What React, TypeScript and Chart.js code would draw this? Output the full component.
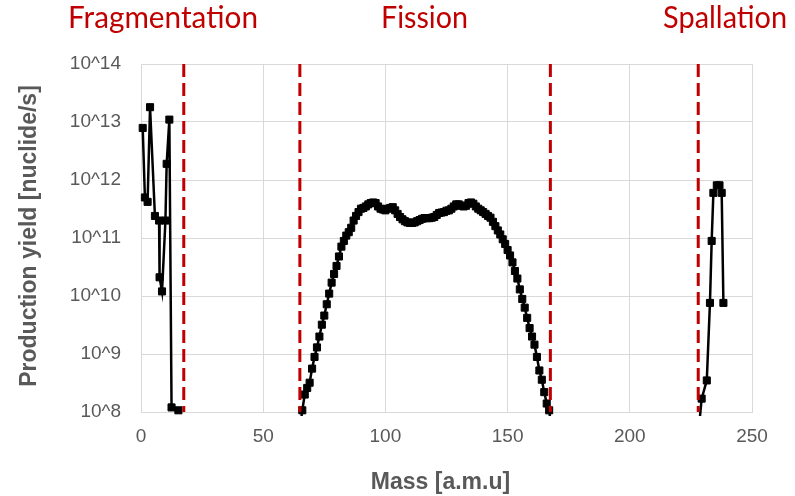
import React, { useEffect, useRef } from "react";
import { Chart, registerables } from "chart.js";

Chart.register(...registerables);

// ---------- data ----------
const fragMass = [0.7, 1.6, 2.7, 3.7, 5.7, 7.4, 7.6, 8.6, 10.0, 10.5, 11.6, 12.5, 15.3];
const fragYield = [7.9e12, 5.0e11, 4.2e11, 1.8e13, 2.4e11, 2.0e11, 2.1e10, 1.2e10, 2.0e11, 1.9e12, 1.1e13, 1.2e8, 1.07e8];

const fissionMass = [
  65, 66, 67, 68, 69, 70, 71, 72, 73, 74, 75, 76, 77, 78, 79, 80, 81, 82, 83, 84,
  85, 86, 87, 88, 89, 90, 91, 92, 93, 94, 95, 96, 97, 98, 99, 100, 101, 102, 103, 104,
  105, 106, 107, 108, 109, 110, 111, 112, 113, 114, 115, 116, 117, 118, 119, 120, 121, 122, 123, 124,
  125, 126, 127, 128, 129, 130, 131, 132, 133, 134, 135, 136, 137, 138, 139, 140, 141, 142, 143, 144,
  145, 146, 147, 148, 149, 150, 151, 152, 153, 154, 155, 156, 157, 158, 159, 160, 161, 162, 163, 164,
  165, 166, 167, 168,
];
const fissionYield = [
  5.0e7, 1.07e8, 2.0e8, 2.6e8, 3.2e8, 5.6e8, 8.9e8, 1.3e9, 2.0e9, 3.2e9, 4.6e9, 7.2e9, 1.1e10, 1.7e10, 2.4e10, 3.3e10, 4.8e10, 7.1e10, 8.9e10, 1.1e11,
  1.26e11, 1.5e11, 2.0e11, 2.4e11, 2.8e11, 3.2e11, 3.3e11, 3.5e11, 3.8e11, 4.0e11, 4.1e11, 4.0e11, 3.5e11, 3.2e11, 3.1e11, 3.0e11, 3.2e11, 3.3e11, 3.4e11, 3.0e11,
  2.6e11, 2.3e11, 2.1e11, 1.95e11, 1.86e11, 1.82e11, 1.82e11, 1.86e11, 1.95e11, 2.04e11, 2.14e11, 2.2e11, 2.2e11, 2.2e11, 2.24e11, 2.3e11, 2.5e11, 2.7e11, 2.75e11, 2.8e11,
  2.95e11, 3.0e11, 3.2e11, 3.5e11, 3.8e11, 3.8e11, 3.6e11, 3.5e11, 3.6e11, 4.0e11, 4.1e11, 3.9e11, 3.5e11, 3.2e11, 3.0e11, 2.8e11, 2.6e11, 2.4e11, 2.24e11, 1.9e11,
  1.6e11, 1.35e11, 1.15e11, 9.5e10, 7.9e10, 6.2e10, 5.0e10, 3.8e10, 2.7e10, 2.0e10, 1.3e10, 8.9e9, 6.3e9, 4.2e9, 2.8e9, 2.0e9, 1.45e9, 8.9e8, 5.2e8, 3.6e8,
  2.2e8, 1.4e8, 1.07e8, 5.0e7,
];

const spallMass = [228, 229.4, 231.5, 232.8, 233.5, 234.2, 235.6, 236.7, 237.6, 238.3];
const spallYield = [4.0e7, 1.7e8, 3.5e8, 7.6e9, 8.9e10, 6.0e11, 8.1e11, 8.1e11, 6.0e11, 7.6e9];

const regionBoundaries = [17.5, 65, 167.5, 228];
const regionTitles = ["Fragmentation", "Fission", "Spallation"];
const regionTitleCenters = [9, 116, 239];
const regionTitleWidths = [190, 87, 124];

const xTickValues = [0, 50, 100, 150, 200, 250];
const yTickValues = [1e8, 1e9, 1e10, 1e11, 1e12, 1e13, 1e14];
const yTickLabels = ["10^8", "10^9", "10^10", "10^11", "10^12", "10^13", "10^14"];

const xTitle = "Mass [a.m.u]";
const yTitle = "Production yield [nuclide/s]";

// ---------- styling ----------
const GRAY = "#595959";
const GRID = "#d9d9d9";
const RED = "#C00000";
const TICK_FONT = "'Liberation Sans', Arial, sans-serif";

const toPoints = (xs: number[], ys: number[]) => xs.map((x, i) => ({ x, y: ys[i] }));

const seriesStyle = {
  showLine: true,
  borderColor: "#000000",
  backgroundColor: "#000000",
  borderWidth: 2.5,
  pointStyle: "rect" as const,
  pointRadius: 5,
  pointBorderWidth: 1,
  pointBackgroundColor: "#000000",
  pointBorderColor: "#000000",
  tension: 0,
  order: 2,
  clip: { left: 6, top: 6, right: 6, bottom: 4 },
};

const textPlugin = {
  id: "textPlugin",
  afterDraw(chart: any) {
    const { ctx, chartArea, scales } = chart;
    const xs = scales.x;
    ctx.save();
    // region titles
    ctx.fillStyle = RED;
    ctx.font = "30px Lato, 'Open Sans', sans-serif";
    ctx.textAlign = "center";
    ctx.textBaseline = "alphabetic";
    regionTitles.forEach((t, i) => {
      ctx.fillText(t, xs.getPixelForValue(regionTitleCenters[i]), 28, regionTitleWidths[i]);
    });
    // axis titles
    ctx.fillStyle = GRAY;
    ctx.font = `bold 23px ${TICK_FONT}`;
    ctx.textBaseline = "middle";
    ctx.fillText(xTitle, (chartArea.left + chartArea.right) / 2 - 6, 483);
    ctx.translate(30, (chartArea.top + chartArea.bottom) / 2 - 2);
    ctx.rotate(-Math.PI / 2);
    ctx.fillText(yTitle, 0, 0);
    ctx.restore();
  },
};

export default function App() {
  const canvasRef = useRef<HTMLCanvasElement | null>(null);

  useEffect(() => {
    if (!canvasRef.current) return;
    const boundarySets = regionBoundaries.map((b) => ({
      data: [
        { x: b, y: 1e14 },
        { x: b, y: 1e8 },
      ],
      showLine: true,
      borderColor: RED,
      borderWidth: 3,
      borderDash: [13, 6],
      pointRadius: 0,
      order: 1,
      clip: 4,
    }));

    const chart = new Chart(canvasRef.current, {
      type: "scatter",
      data: {
        datasets: [
          ...boundarySets,
          { ...seriesStyle, data: toPoints(fragMass, fragYield) },
          { ...seriesStyle, data: toPoints(fissionMass, fissionYield) },
          { ...seriesStyle, data: toPoints(spallMass, spallYield) },
        ] as any,
      },
      plugins: [textPlugin],
      options: {
        animation: false,
        responsive: false,
        devicePixelRatio: 1,
        layout: { padding: { left: 0, top: 64, right: 43, bottom: 0 } },
        plugins: {
          legend: { display: false },
          tooltip: { enabled: false },
        },
        scales: {
          x: {
            type: "linear",
            min: 0,
            max: 250,
            afterBuildTicks: (s: any) => {
              s.ticks = xTickValues.map((v) => ({ value: v }));
            },
            afterFit: (s: any) => {
              s.height = 84;
            },
            grid: { color: GRID, lineWidth: 1, drawTicks: false, tickLength: 0 },
            border: { display: true, color: GRID, width: 1 },
            ticks: {
              color: GRAY,
              font: { family: TICK_FONT, size: 19 },
              padding: 13,
              maxRotation: 0,
            },
          },
          y: {
            type: "logarithmic",
            min: 1e8,
            max: 1e14,
            afterBuildTicks: (s: any) => {
              s.ticks = yTickValues.map((v) => ({ value: v }));
            },
            afterFit: (s: any) => {
              s.width = 141;
            },
            grid: { color: GRID, lineWidth: 1, drawTicks: false, tickLength: 0 },
            border: { display: true, color: GRID, width: 1 },
            ticks: {
              color: GRAY,
              font: { family: TICK_FONT, size: 19 },
              padding: 20,
              callback: (_v: any, i: number) => yTickLabels[i],
            },
          },
        },
      } as any,
    });
    return () => chart.destroy();
  }, []);

  return (
    <div style={{ position: "fixed", left: 0, top: 0, width: 795, height: 496, background: "#fff" }}>
      <canvas ref={canvasRef} width={795} height={496} />
    </div>
  );
}
